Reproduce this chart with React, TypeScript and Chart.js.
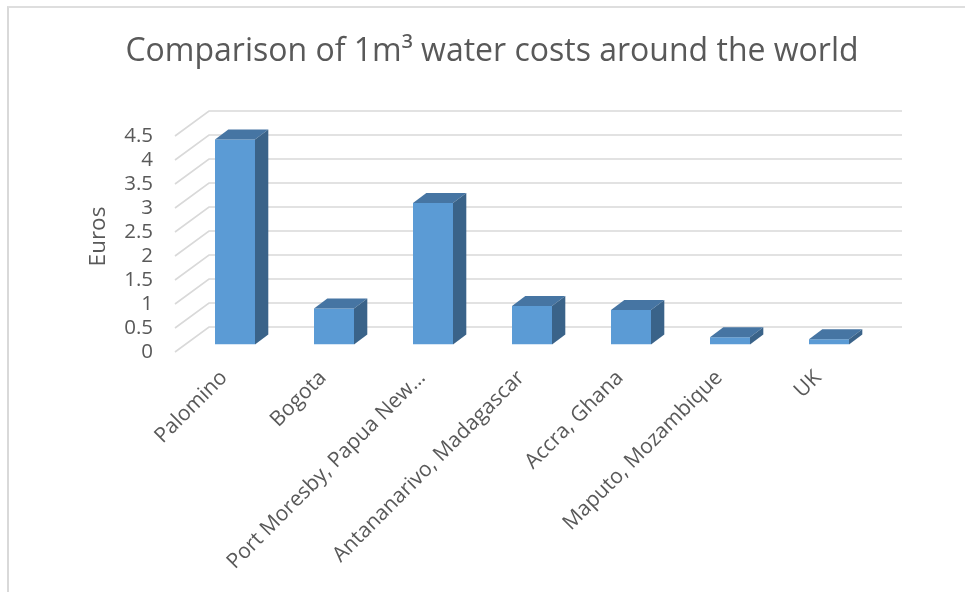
import React, { useEffect, useRef } from "react";
import { Chart, registerables } from "chart.js";

Chart.register(...registerables);

// Cost of one cubic metre of water, in euros
const CITIES = [
  "Palomino",
  "Bogota",
  "Port Moresby, Papua New…",
  "Antananarivo, Madagascar",
  "Accra, Ghana",
  "Maputo, Mozambique",
  "UK",
];
const COST_EUROS = [4.27, 0.75, 2.95, 0.8, 0.72, 0.15, 0.11];

const Y_MIN = 0;
const Y_MAX = 4.5;
const Y_STEP = 0.5;

const TITLE = "Comparison of 1m³ water costs around the world";
const Y_TITLE = "Euros";

const FONT = "'Open Sans', 'Noto Sans', sans-serif";
const TEXT = "#595959";
const GRID = "#d9d9d9";
const FRONT = "#5b9bd5";
const TOP = "#4675a3";
const SIDE = "#3a6389";

// Oblique projection of the 3D box: offsets from the bar front plane
const FLOOR_FRONT = { dx: 10.5, dy: 7.5 }; // towards the viewer
const FLOOR_BACK = { dx: 23.5, dy: 17.5 }; // towards the back wall
const BAR_DEPTH = { dx: 13.3, dy: 10 };

const depthPlugin = {
  id: "depth3d",
  beforeDatasetsDraw(chart: any) {
    const { ctx, chartArea, scales } = chart;
    const y = scales.y;
    ctx.save();
    ctx.strokeStyle = GRID;
    ctx.lineWidth = 1.6;
    for (const t of y.ticks) {
      const py = y.getPixelForValue(t.value);
      ctx.beginPath();
      ctx.moveTo(chartArea.left - FLOOR_FRONT.dx, py + FLOOR_FRONT.dy);
      ctx.lineTo(chartArea.left + FLOOR_BACK.dx, py - FLOOR_BACK.dy);
      ctx.lineTo(chartArea.right + FLOOR_BACK.dx, py - FLOOR_BACK.dy);
      ctx.stroke();
    }
    ctx.restore();
  },
  afterDatasetsDraw(chart: any) {
    const { ctx } = chart;
    const meta = chart.getDatasetMeta(0);
    ctx.save();
    for (const bar of meta.data) {
      const { x, y, base, width } = bar.getProps(["x", "y", "base", "width"], true);
      const l = x - width / 2;
      const r = x + width / 2;
      const { dx, dy } = BAR_DEPTH;
      // top face
      ctx.fillStyle = TOP;
      ctx.beginPath();
      ctx.moveTo(l, y);
      ctx.lineTo(r, y);
      ctx.lineTo(r + dx, y - dy);
      ctx.lineTo(l + dx, y - dy);
      ctx.closePath();
      ctx.fill();
      // right side face
      ctx.fillStyle = SIDE;
      ctx.beginPath();
      ctx.moveTo(r, y);
      ctx.lineTo(r + dx, y - dy);
      ctx.lineTo(r + dx, base - dy);
      ctx.lineTo(r, base);
      ctx.closePath();
      ctx.fill();
    }
    ctx.restore();
  },
};

export default function App() {
  const canvasRef = useRef<HTMLCanvasElement | null>(null);

  useEffect(() => {
    const canvas = canvasRef.current;
    if (!canvas) return;
    const chart = new Chart(canvas, {
      type: "bar",
      data: {
        labels: CITIES,
        datasets: [
          {
            data: COST_EUROS,
            backgroundColor: FRONT,
            borderWidth: 0,
            categoryPercentage: 1,
            barPercentage: 0.404,
          },
        ],
      },
      plugins: [depthPlugin],
      options: {
        responsive: false,
        animation: false,
        devicePixelRatio: 1,
        layout: { padding: { left: 19, right: 0, top: 0, bottom: 0 } },
        plugins: {
          legend: { display: false },
          tooltip: { enabled: false },
          title: {
            display: true,
            text: TITLE,
            color: TEXT,
            font: { family: FONT, size: 32, weight: "normal" },
            padding: { top: 32.5, bottom: 57.6 },
          },
        },
        scales: {
          x: {
            grid: { display: false, drawTicks: false },
            border: { display: false },
            ticks: {
              color: TEXT,
              font: { family: FONT, size: 21 },
              minRotation: 45,
              maxRotation: 45,
              autoSkip: false,
              padding: 21,
              labelOffset: -11,
            },
            afterFit: (s: any) => {
              s.height = 247.5;
            },
          },
          y: {
            min: Y_MIN,
            max: Y_MAX,
            grid: { display: false, drawTicks: false },
            border: { display: false },
            ticks: {
              stepSize: Y_STEP,
              autoSkip: false,
              color: TEXT,
              font: { family: FONT, size: 20.5 },
              padding: 32.5,
              labelOffset: 7.5,
              callback: (v: any) => String(Number(v)),
            },
            title: {
              display: true,
              text: Y_TITLE,
              color: TEXT,
              font: { family: FONT, size: 22.5 },
              padding: { top: 66, bottom: 0 },
            },
            afterFit: (s: any) => {
              s.width = 166.5;
            },
          },
          depthRoom: {
            type: "linear",
            position: "right",
            display: true,
            grid: { display: false, drawTicks: false },
            border: { display: false },
            ticks: { display: false },
            afterFit: (s: any) => {
              s.width = 86.5;
            },
          },
        },
      },
    } as any);
    return () => chart.destroy();
  }, []);

  return (
    <div style={{ position: "fixed", left: 0, top: 0, width: 965, height: 592, background: "#ffffff", overflow: "hidden" }}>
      <div
        style={{
          position: "absolute",
          left: 7,
          top: 6,
          width: 1000,
          height: 1000,
          borderLeft: "2px solid #d9d9d9",
          borderTop: "2px solid #dedede",
        }}
      />
      <canvas ref={canvasRef} width={965} height={592} style={{ position: "absolute", left: 0, top: 0 }} />
    </div>
  );
}
